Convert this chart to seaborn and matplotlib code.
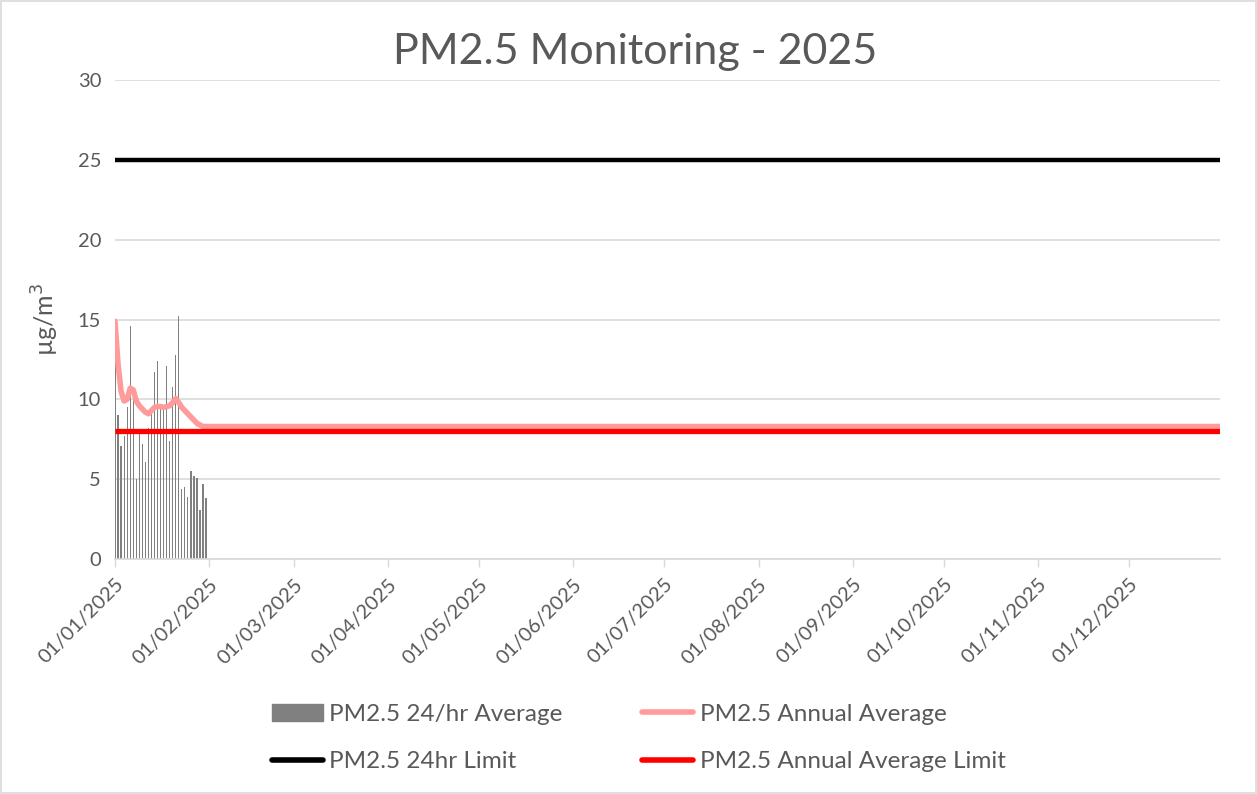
"""PM2.5 monitoring chart for 2025, daily bars plus limit lines."""

import matplotlib

matplotlib.use("Agg")
import matplotlib.pyplot as plt
import matplotlib.dates as mdates
from matplotlib.lines import Line2D
from matplotlib.patches import Patch, Rectangle
import pandas as pd
import seaborn as sns

# daily 24hr averages for January 2025 (µg/m³)
DAILY_DATES = pd.date_range("2025-01-01", "2025-01-31", freq="D")
DAILY_PM25 = [
    14.9, 9.0, 7.1, 7.7, 9.5, 14.6, 10.5, 5.0, 7.8, 7.2,
    6.1, 8.2, 9.5, 11.7, 12.4, 9.5, 9.6, 12.1, 7.4, 10.8,
    12.8, 15.2, 4.4, 4.5, 3.9, 5.5, 5.2, 5.1, 3.1, 4.7, 3.8,
]

# annual average line: January values, then it holds flat to year end
ANNUAL_DATES = list(DAILY_DATES) + [pd.Timestamp("2025-12-31")]
ANNUAL_AVG = [
    14.9, 12.2, 10.5, 9.9, 10.0, 10.7, 10.6, 9.9, 9.6, 9.4,
    9.2, 9.1, 9.3, 9.5, 9.55, 9.55, 9.5, 9.55, 9.6, 9.8,
    10.05, 9.8, 9.5, 9.3, 9.1, 8.9, 8.7, 8.5, 8.4, 8.3, 8.3,
    8.3,
]

LIMIT_24HR = 25
LIMIT_ANNUAL = 8
YEAR_START = pd.Timestamp("2025-01-01")
YEAR_END = pd.Timestamp("2025-12-31")
MONTH_TICKS = pd.date_range("2025-01-01", "2025-12-01", freq="MS")

TEXT = "#595959"
GRID = "#D9D9D9"
BAR = "#808080"
PINK = "#FF9B9B"
RED = "#FF0000"

sns.set_theme(style="white")
plt.rcParams["font.family"] = ["Lato", "DejaVu Sans"]

fig = plt.figure(figsize=(12.57, 7.94), dpi=100)
ax = fig.add_axes([0.0915, 0.296, 0.879, 0.603])

ax.bar(DAILY_DATES, DAILY_PM25, width=0.4, color=BAR, linewidth=0, zorder=2)

lim_df = pd.DataFrame({"date": [YEAR_START, YEAR_END]})
ax.plot(lim_df["date"], [LIMIT_24HR] * 2, color="black", lw=3.2, zorder=3,
        solid_capstyle="butt")
ax.plot(lim_df["date"], [LIMIT_ANNUAL] * 2, color=RED, lw=3.8, zorder=4,
        solid_capstyle="butt")

annual_df = pd.DataFrame({"date": ANNUAL_DATES, "avg": ANNUAL_AVG})
sns.lineplot(data=annual_df, x="date", y="avg", ax=ax, color=PINK, lw=4,
             zorder=3)

ax.set_xlim(YEAR_START, YEAR_END)
ax.set_ylim(0, 30)
ax.set_yticks(range(0, 31, 5))
ax.yaxis.grid(True, color=GRID, lw=1.2)
ax.set_axisbelow(True)

ax.set_xticks(MONTH_TICKS)
ax.xaxis.set_major_formatter(mdates.DateFormatter("%d/%m/%Y"))
plt.setp(ax.get_xticklabels(), rotation=45, ha="right", rotation_mode="anchor")
ax.tick_params(axis="x", colors=TEXT, labelsize=14.5, length=6, width=1,
               color=GRID, direction="out", bottom=True, pad=6)
ax.tick_params(axis="y", colors=TEXT, labelsize=14.5, length=0, pad=10)

for side in ["left", "right", "top"]:
    ax.spines[side].set_visible(False)
ax.spines["bottom"].set_color(GRID)
ax.spines["bottom"].set_linewidth(1.2)

ax.set_xlabel("")
ax.set_ylabel("µg/m$^3$", color=TEXT, fontsize=18, labelpad=12)
fig.text(0.505, 0.934, "PM2.5 Monitoring - 2025", color=TEXT, fontsize=31,
         ha="center", va="center")

handles = [
    Patch(facecolor=BAR, edgecolor=BAR),
    Line2D([], [], color="black", lw=4),
    Line2D([], [], color=PINK, lw=4),
    Line2D([], [], color=RED, lw=4),
]
labels = [
    "PM2.5 24/hr Average",
    "PM2.5 24hr Limit",
    "PM2.5 Annual Average",
    "PM2.5 Annual Average Limit",
]
leg = fig.legend(handles, labels, loc="center", bbox_to_anchor=(0.508, 0.0705),
                 ncol=2, frameon=False, fontsize=17.5, handlelength=2.1,
                 handletextpad=0.25, columnspacing=3.3, labelspacing=1.08)
for t in leg.get_texts():
    t.set_color(TEXT)

fig.patches.append(Rectangle((0.001, 0.001), 0.998, 0.998, transform=fig.transFigure,
                             fill=False, edgecolor=GRID, lw=1.2))

fig.savefig("out.png", dpi=100)
plt.close(fig)
